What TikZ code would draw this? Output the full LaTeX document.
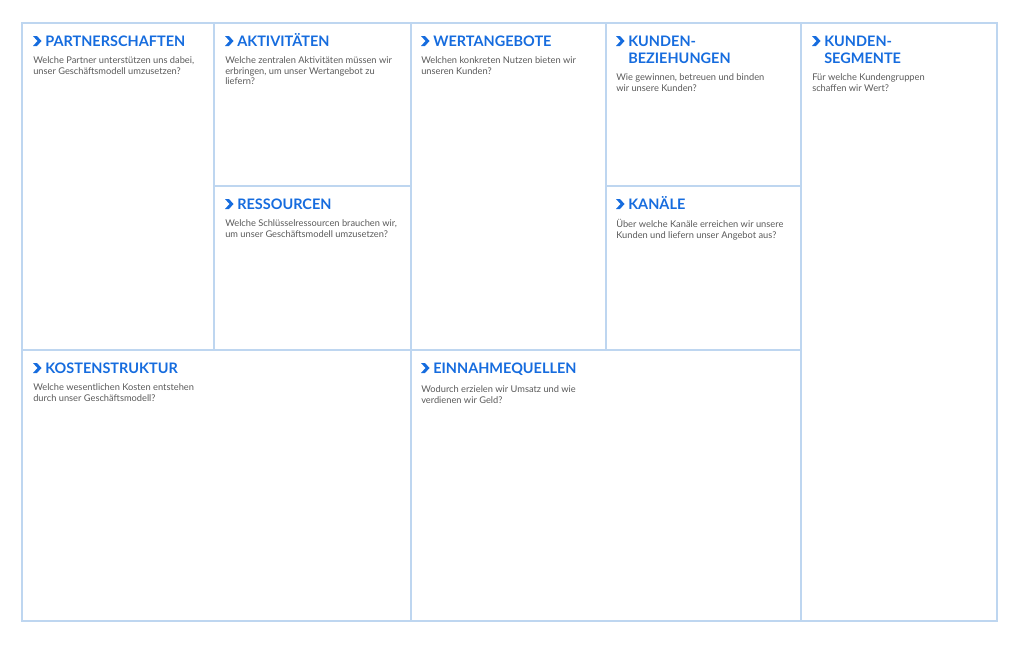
\documentclass[tikz,border=0pt]{standalone}
\usepackage{fontspec}
\setmainfont{Lato}
\definecolor{blued}{RGB}{22,108,222}
\definecolor{lined}{RGB}{190,214,240}
\definecolor{greyd}{RGB}{90,90,90}
\tikzset{
    head/.style={font=\fontsize{10.3}{12.1}\selectfont\bfseries, text=blued, inner sep=0pt, align=left},
    body/.style={font=\fontsize{6.6}{7.8}\selectfont, text=greyd, inner sep=0pt, align=left},
    gridline/.style={lined, line width=1.1pt}
}
\begin{document}
\begin{tikzpicture}[x=0.025cm, y=-0.025cm]
                    \useasboundingbox (0,0) rectangle (1024,645);
                    \draw[gridline] (22,23) rectangle (997,621);
                    \draw[gridline] (22,350) -- (801,350);
                    \draw[gridline] (411,23) -- (411,621);
                    \draw[gridline] (801,23) -- (801,621);
                    \draw[gridline] (214,23) -- (214,350);
                    \draw[gridline] (606,23) -- (606,350);
                    \draw[gridline] (214,186) -- (411,186);
                    \draw[gridline] (606,186) -- (801,186);
                    \foreach \id/\x/\y/\by/\h/\t in {
                        pa/33/36/46.5/PARTNERSCHAFTEN/{Welche Partner unterstützen uns dabei,\\unser Geschäftsmodell umzusetzen?},
                        ak/225/36/46.5/AKTIVITÄTEN/{Welche zentralen Aktivitäten müssen wir\\erbringen, um unser Wertangebot zu\\liefern?},
                        wa/421/36/46.5/WERTANGEBOTE/{Welchen konkreten Nutzen bieten wir\\unseren Kunden?},
                        kb/616/36/63.5/{KUNDEN-\\BEZIEHUNGEN}/{Wie gewinnen, betreuen und binden\\wir unsere Kunden?},
                        ks/812/36/63.5/{KUNDEN-\\SEGMENTE}/{Für welche Kundengruppen\\schaffen wir Wert?},
                        re/225/199/209.5/RESSOURCEN/{Welche Schlüsselressourcen brauchen wir,\\um unser Geschäftsmodell umzusetzen?},
                        kn/616/199/209.5/KANÄLE/{Über welche Kanäle erreichen wir unsere\\Kunden und liefern unser Angebot aus?},
                        ko/33/363/373.5/KOSTENSTRUKTUR/{Welche wesentlichen Kosten entstehen\\durch unser Geschäftsmodell?},
                        ei/421/363/373.5/EINNAHMEQUELLEN/{Wodurch erzielen wir Umsatz und wie\\verdienen wir Geld?}}
                        {\coordinate (c-\id) at (\x,\y);
                        \fill[blued] (c-\id) -- ++(4,0) -- ++(4.5,5) -- ++(-4.5,5) -- ++(-4,0) -- ++(4.5,-5) -- cycle;
                        \node[head, anchor=base west] (h-\id) at (\x+12,\by) {\h};
                        \node[body, anchor=north west, yshift=-6.5pt] (t-\id) at (c-\id |- h-\id.south) {\t};}
                \end{tikzpicture}
\end{document}
